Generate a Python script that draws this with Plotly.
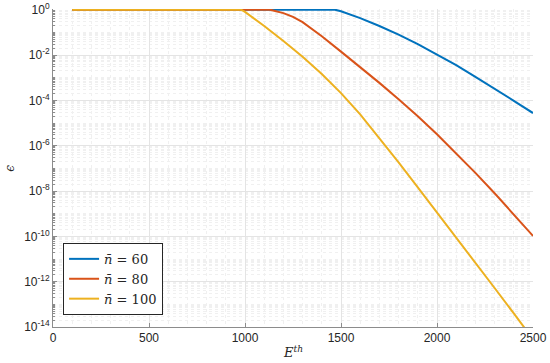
import plotly.graph_objects as go

# E^th sample positions and read values (log10 of epsilon)
E_60 = [100, 1469, 1500, 1600, 1700, 1800, 1900, 2000, 2100, 2200, 2300, 2400, 2500]
logeps_60 = [0, 0, -0.07, -0.37, -0.72, -1.10, -1.52, -1.97, -2.45, -2.96, -3.48, -4.02, -4.56]

E_80 = [100, 1130, 1200, 1250, 1300, 1350, 1400, 1500, 1600, 1700, 1800, 1900, 2000, 2100, 2200, 2300, 2400, 2500]
logeps_80 = [0, 0, -0.15, -0.32, -0.55, -0.85, -1.17, -1.85, -2.53, -3.23, -3.95, -4.70, -5.50, -6.33, -7.20, -8.10, -9.03, -9.98]

E_100 = [100, 980, 1000, 1050, 1100, 1200, 1300, 1400, 1500, 1600, 1700, 1800, 1900, 2000, 2100, 2200, 2300, 2400, 2500]
logeps_100 = [0, 0, -0.10, -0.40, -0.72, -1.38, -2.08, -2.84, -3.68, -4.62, -5.66, -6.74, -7.84, -8.94, -10.04, -11.16, -12.28, -13.40, -14.54]

labels = ["<i>n̄</i> = 60", "<i>n̄</i> = 80", "<i>n̄</i> = 100"]
colors = ["#0072BD", "#D95319", "#EDB120"]

x_ticks = [0, 500, 1000, 1500, 2000, 2500]
y_exps = [0, -2, -4, -6, -8, -10, -12, -14]

fig = go.Figure()
for E, le, name, c in zip([E_60, E_80, E_100], [logeps_60, logeps_80, logeps_100], labels, colors):
    fig.add_trace(go.Scatter(x=E, y=[10 ** v for v in le], mode="lines", name=name,
                             line=dict(color=c, width=2)))

minor_vals = []
for n in range(-14, 0):
    for k in range(1, 10):
        if not (k == 1 and n % 2 == 0):
            minor_vals.append(k * 10 ** n)

axis_col = "#8c8c8c"
tick_font = dict(family="Liberation Sans, Arial, sans-serif", size=12, color="#262626")
serif = "DejaVu Serif, serif"

fig.update_layout(
    width=550, height=363,
    margin=dict(l=53, r=17, t=9, b=36),
    paper_bgcolor="white", plot_bgcolor="white",
    showlegend=True,
    legend=dict(x=0.021, y=0.038, xanchor="left", yanchor="bottom",
                bgcolor="white", bordercolor="#262626", borderwidth=1,
                font=dict(family=serif, size=13, color="#262626"),
                tracegroupgap=0, itemwidth=30),
    xaxis=dict(range=[0, 2500], tickvals=x_ticks, ticktext=[str(v) for v in x_ticks],
               automargin=False,
               ticks="inside", ticklen=4, tickcolor=axis_col, showline=True, linecolor=axis_col,
               linewidth=1, showgrid=True, gridcolor="#e4e4e4", gridwidth=1, zeroline=False,
               tickfont=tick_font,
               minor=dict(dtick=100, showgrid=True, gridcolor="#f0f0f0", griddash="dot", ticks="")),
    yaxis=dict(type="log", range=[-14, 0.03],
               automargin=False,
               tickvals=[10 ** e for e in y_exps],
               ticktext=["10<sup>%d</sup>" % e for e in y_exps],
               ticks="inside", ticklen=4, tickcolor=axis_col, showline=True, linecolor=axis_col,
               linewidth=1, showgrid=True, gridcolor="#e4e4e4", gridwidth=1, zeroline=False,
               tickfont=tick_font,
               minor=dict(tickvals=minor_vals, showgrid=True, gridcolor="#f0f0f0", griddash="dot",
                          ticks="inside", ticklen=2, tickcolor=axis_col)),
    annotations=[
        dict(text="<i>E</i><sup><i>th</i></sup>", xref="paper", yref="paper",
             x=0.5, y=-0.079, xanchor="center", yanchor="middle", showarrow=False,
             font=dict(family=serif, size=13, color="#262626")),
        dict(text="<i>ϵ</i>", xref="paper", yref="paper", textangle=-90,
             x=-0.09, y=0.5, xanchor="center", yanchor="middle", showarrow=False,
             font=dict(family=serif, size=12, color="#262626")),
    ],
)

# remove the default 8px page margin so the 550x363 figure fills the window exactly
fig.write_html("out.html",
               config={"displayModeBar": False, "staticPlot": True},
               post_script="document.body.style.margin='0';document.body.style.overflow='hidden';")
